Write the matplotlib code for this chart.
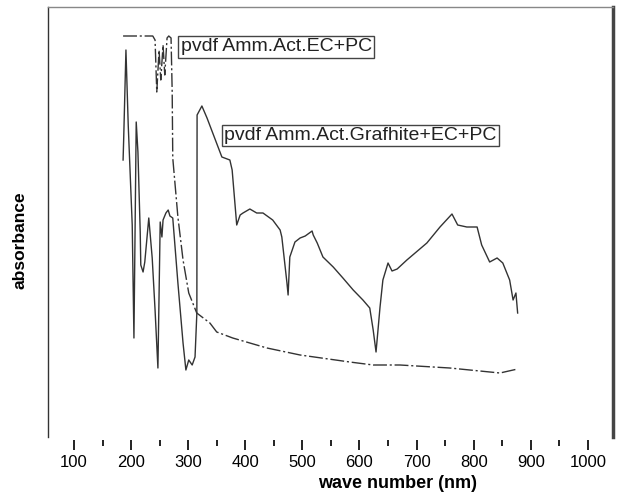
import numpy as np
import matplotlib
matplotlib.use("Agg")
import matplotlib.pyplot as plt
from matplotlib.ticker import MultipleLocator

plt.rcParams['font.family'] = ['Liberation Sans', 'DejaVu Sans']

# pvdf Amm.Act.EC+PC  (dash-dot curve)
wl_ec = [186, 238, 242, 245, 249, 252, 256, 259, 263, 266, 270, 272, 273,
         282, 291, 301, 315, 338, 350, 378, 438, 496, 583, 624, 671, 758,
         846, 877]
abs_ec = [4.01, 4.01, 3.97, 3.45, 3.87, 3.57, 3.92, 3.62, 3.99, 4.01, 3.99,
          3.45, 2.79, 2.20, 1.77, 1.44, 1.24, 1.14, 1.05, 0.99, 0.89, 0.82,
          0.75, 0.72, 0.72, 0.69, 0.64, 0.68]

# pvdf Amm.Act.Grafhite+EC+PC  (solid curve)
wl_gr = [186, 187, 191, 195, 202, 205, 209, 212, 216, 217, 221, 224, 231,
         237, 242, 247, 251, 254, 256, 261, 265, 268, 273, 282, 291, 296,
         301, 307, 312, 315.2, 315.6, 324, 333, 359, 373, 377, 385, 391,
         396, 408, 420, 431, 448, 461, 464, 473, 475, 478, 487, 496, 505,
         517, 519, 526, 536, 554, 571, 589, 606, 618, 624, 629, 636, 641,
         650, 657, 666, 683, 718, 741, 762, 772, 788, 806, 814, 828, 841,
         851, 863, 869, 874, 877]
abs_gr = [2.77, 2.97, 3.87, 3.12, 2.12, 0.99, 3.15, 2.85, 2.05, 1.72, 1.65,
          1.75, 2.19, 1.79, 1.27, 0.69, 2.15, 2.00, 2.17, 2.24, 2.27, 2.21,
          2.19, 1.54, 0.94, 0.67, 0.77, 0.72, 0.80, 1.24, 3.22, 3.31, 3.19,
          2.80, 2.77, 2.67, 2.12, 2.22, 2.24, 2.28, 2.24, 2.24, 2.17, 2.07,
          2.00, 1.54, 1.42, 1.80, 1.95, 1.99, 2.01, 2.06, 2.02, 1.94, 1.80,
          1.70, 1.59, 1.47, 1.37, 1.29, 1.07, 0.85, 1.30, 1.57, 1.74, 1.66,
          1.68, 1.77, 1.94, 2.10, 2.23, 2.12, 2.10, 2.10, 1.92, 1.75, 1.79,
          1.74, 1.57, 1.37, 1.44, 1.24]

label_ec = "pvdf Amm.Act.EC+PC"
label_gr = "pvdf Amm.Act.Grafhite+EC+PC"

fig = plt.figure(figsize=(6.17, 4.92), dpi=100)
ax = fig.add_axes([48/617, 1-437/492, (613-48)/617, (437-7)/492])

ax.plot(wl_ec, abs_ec, color='#333333', lw=1.0, dashes=(10, 2, 1.5, 2))
ax.plot(wl_gr, abs_gr, color='#333333', lw=1.0)

ax.set_xlim(54.5, 1044)
ax.set_ylim(0, 4.30)

ax.text(287, 3.90, label_ec, fontsize=14, color='#222222', ha='left', va='center',
        bbox=dict(boxstyle='square,pad=0.12', fc='white', ec='#444444', lw=1.0))
ax.text(363, 3.015, label_gr, fontsize=14, color='#222222', ha='left', va='center',
        bbox=dict(boxstyle='square,pad=0.12', fc='white', ec='#444444', lw=1.0))

# spines
ax.spines['bottom'].set_visible(False)
ax.spines['left'].set_color('#333333')
ax.spines['left'].set_linewidth(1.0)
ax.spines['top'].set_color('#888888')
ax.spines['top'].set_linewidth(1.0)
ax.spines['right'].set_color('#444444')
ax.spines['right'].set_linewidth(2.5)
ax.spines['bottom'].set_position(('outward', 2))

ax.set_yticks([])
ax.xaxis.set_minor_locator(MultipleLocator(50))
ax.set_xticks(np.arange(100, 1001, 100))
ax.set_xticklabels([str(v) for v in range(100, 1001, 100)])
ax.tick_params(axis='x', which='major', length=7, width=1.4, color='#222222',
               labelsize=12, pad=4)
ax.tick_params(axis='x', which='minor', length=4, width=1.4, color='#222222')

fig.text(398/617, 1-483/492, "wave number (nm)", fontsize=13, fontweight='bold',
         ha='center', va='center')
fig.text(20/617, 1-240/492, "absorbance", fontsize=12.5, fontweight='bold',
         rotation=90, ha='center', va='center')

fig.savefig("out.png", dpi=100)
